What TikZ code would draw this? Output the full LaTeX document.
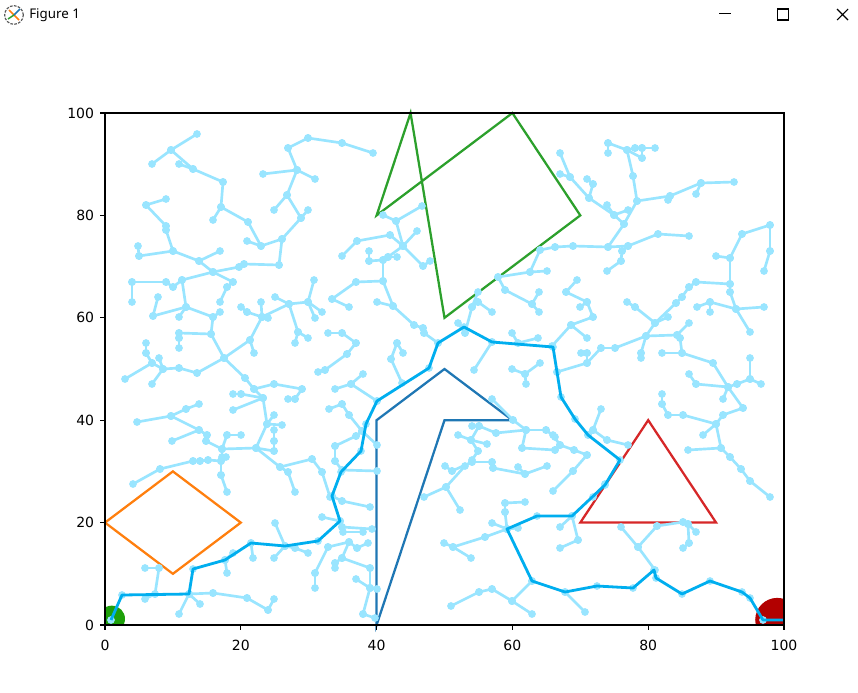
\documentclass[tikz,border=0pt]{standalone}
\usepackage{fontspec}
\setmainfont{DejaVu Sans}
\newfontfamily\uifont{Noto Sans}
\definecolor{treec}{RGB}{153,229,255}
\definecolor{pathc}{RGB}{0,174,239}
\definecolor{tabblue}{RGB}{31,119,180}
\definecolor{taborange}{RGB}{255,127,14}
\definecolor{tabgreen}{RGB}{44,160,44}
\definecolor{tabred}{RGB}{214,39,40}
\definecolor{startc}{RGB}{30,160,10}
\definecolor{goalc}{RGB}{178,0,0}
\def\treeedges{197/134/171/150,171/150/152/164,171/150/193/169,179/164/193/169,193/169/223/182,223/182/221/207,221/207/213/220,221/207/248/222,248/222/261/246,247/241/261/246,261/246/282/239,282/239/279/265,279/265/244/264,244/264/239/267,239/267/213/272,213/272/199/261,199/261/220/251,199/261/173/251,173/251/139/256,139/256/138/246,173/251/166/230,166/230/166/226,166/226/146/205,146/205/166/199,213/272/233/282,213/272/182/280,282/239/301/218,301/218/308/210,301/218/287/195,287/195/274/210,287/195/297/170,297/170/263/174,297/170/315/179,297/170/288/148,288/148/308/138,308/138/342/143,342/143/373/153,
383/215/396/221,396/221/422/206,396/221/403/246,403/246/417/231,403/246/390/235,390/235/357/241,357/241/342/256,403/246/388/257,388/257/383/260,383/260/369/261,369/261/369/251,388/257/397/257,403/246/423/266,423/266/430/261,383/260/383/281,383/281/356/282,498/277/530/272,530/272/547/271,530/272/540/250,540/250/555/247,505/290/498/277,
608/143/608/153,608/143/627/150,627/150/635/148,635/148/642/148,642/148/655/148,627/150/642/158,642/158/642/148,627/150/633/176,633/176/637/201,637/201/670/196,670/196/668/200,670/196/701/183,701/183/734/182,701/183/696/194,560/153/570/177,560/174/570/177,570/177/589/198,587/179/593/184,593/184/589/198,589/198/614/215,607/205/614/215,614/215/628/210,614/215/624/224,637/201/624/224,624/224/608/247,608/247/573/246,573/246/555/247,608/247/628/246,628/246/622/251,628/246/658/234,658/234/689/236,622/251/621/261,621/261/607/271,770/225/742/234,770/225/770/251,770/251/764/271,742/234/730/258,730/258/716/256,730/258/730/284,
132/282/132/302,132/282/166/282,166/282/173/287,173/287/182/280,182/280/186/307,186/307/153/316,153/316/158/297,186/307/179/317,186/307/213/317,213/317/220/312,213/317/211/334,211/334/179/333,179/333/179/338,179/338/179/348,211/334/224/358,224/358/250/340,250/340/254/353,250/340/262/317,262/317/268/318,262/317/247/312,247/312/241/307,262/317/261/302,262/317/289/304,289/304/275/297,289/304/308/302,308/302/314/280,308/302/322/312,308/302/315/318,289/304/298/332,298/332/295/343,298/332/308/338,233/282/227/287,227/287/220/302,224/358/197/373,197/373/179/368,179/368/163/369,163/369/159/358,163/369/152/363,152/363/146/353,146/353/146/343,152/363/125/379,163/369/152/384,224/358/245/378,245/378/254/389,254/389/263/398,263/398/241/394,241/394/233/394,263/398/233/410,254/389/274/384,274/384/302/389,302/389/295/399,295/399/288/399,263/398/267/424,267/424/274/415,267/424/282/425,267/424/256/448,274/430/274/441,274/441/274/451,256/448/274/451,256/448/222/449,222/449/227/435,227/435/241/435,222/449/206/441,206/441/207/435,207/435/199/430,199/430/172/441,199/430/171/416,171/416/186/409,186/409/199/404,171/416/137/422,222/449/222/457,256/448/280/467,
383/281/393/306,377/302/393/306,393/306/414/325,414/325/423/328,423/328/424/333,424/333/438/343,332/299/349/307,332/299/356/282,458/323/465/333,465/333/472/307,472/307/478/292,472/307/478/302,478/302/492/312,505/290/532/304,532/304/539/292,532/304/539/312,328/333/342/333,342/333/356/343,356/343/347/354,347/354/325/370,325/370/318/372,397/343/403/353,397/343/391/359,391/359/402/383,363/374/351/384,351/384/335/389,351/384/377/401,329/409/342/404,342/404/349/415,349/415/362/431,362/431/356/436,356/436/335/446,362/431/377/445,335/446/335/461,512/333/518/343,518/343/538/338,492/342/474/370,512/369/525/374,525/374/540/363,525/374/526/384,492/399/513/420,513/420/526/430,526/430/546/430,546/430/555/437,526/430/522/448,522/448/555/450,472/426/479/426,479/426/496/433,496/433/526/430,479/426/471/440,458/435/471/440,471/440/478/451,471/440/487/444,478/451/472/460,
577/280/566/292,566/292/587/302,587/302/580/307,587/302/593/317,593/317/571/325,571/325/587/338,571/325/552/346,581/353/587/353,587/353/587/363,587/363/557/372,587/363/601/348,601/348/615/348,615/348/646/336,646/336/641/353,641/353/641/358,646/336/655/323,655/323/668/317,655/323/635/307,635/307/627/302,655/323/676/303,676/303/682/297,682/297/689/287,689/287/696/282,696/282/730/284,730/284/730/292,730/292/736/309,710/302/697/307,710/302/710/312,710/302/736/309,736/309/764/307,736/309/750/332,646/336/677/335,677/335/689/323,677/335/680/338,680/338/682/353,682/353/662/353,682/353/713/363,713/363/728/387,750/358/750/379,750/379/761/384,728/387/737/384,737/384/750/379,728/387/696/384,696/384/689/374,728/387/723/399,728/387/743/408,743/408/723/415,723/415/716/424,662/394/662/404,662/404/668/415,668/415/683/415,683/415/716/424,716/424/703/435,716/424/721/448,721/448/688/450,601/409/593/430,593/430/588/435,593/430/607/440,607/440/628/445,560/445/553/435,560/445/574/450,574/450/587/455,560/445/555/450,721/448/730/457,730/457/741/469,741/469/750/481,750/481/770/497,
133/484/160/469,160/469/193/461,193/461/200/461,200/461/208/460,208/460/221/461,221/461/226/457,221/461/221/475,221/475/227/492,280/467/288/472,288/472/295/492,280/467/312/459,312/459/322/472,322/472/330/497,275/523/285/546,274/558/285/546,285/546/295/548,295/548/308/553,253/558/251/543,225/560/233/553,225/560/227/573,145/568/159/568,159/568/155/594,145/599/155/594,189/594/213/593,213/593/247/598,247/598/268/610,268/610/274/599,189/594/200/604,189/594/179/614,322/517/340/521,315/573/315/588,315/573/328/547,
335/461/342/470,342/470/377/471,332/496/342/501,342/501/370/507,340/521/342/527,342/527/372/529,343/532/363/532,328/547/349/542,349/542/357/548,357/548/368/543,349/542/342/558,342/558/335/563,335/563/335/568,342/558/370/568,370/568/370/588,356/579/370/588,370/588/377/589,370/588/363/614,363/614/375/618,445/466/452/471,452/471/472/462,472/462/492/462,492/462/493/468,493/468/525/474,525/474/518/467,525/474/547/466,465/466/446/487,446/487/424/497,446/487/460/510,505/503/525/502,505/503/505/512,505/512/507/529,492/523/507/529,507/529/518/528,507/529/485/537,485/537/453/547,453/547/444/543,453/547/471/558,479/592/492/589,479/592/451/606,492/589/512/601,512/601/532/581,512/601/532/614,
587/455/573/471,573/471/553/491,605/484/593/497,572/516/560/527,572/516/578/540,578/540/560/548,621/527/638/547,638/547/657/526,638/547/655/570,657/526/683/522,683/522/688/524,688/524/696/532,688/524/689/543,689/543/683/548,565/592/585/612}
\def\pathpts{111/620,122/595,189/594,193/569,225/560,251/543,285/546,318/541,340/521,332/496,341/472,361/451,366/424,377/401,429/368,438/343,464/327,492/342,553/347,557/372,561/397,575/419,588/435,620/460,605/485,572/516,537/516,507/529,532/581,565/592,597/586,633/588,654/570,656/578,682/594,710/581,742/592,750/598,763/620}
\begin{document}
\begin{tikzpicture}[x=0.75pt,y=-0.75pt,
  treeline/.style={treec,line width=2pt},
  obst/.style={line width=1.7pt,line join=miter},
  pathline/.style={pathc,line width=2.1pt,line join=round},
  ticklab/.style={font=\fontsize{10.5pt}{12pt}\selectfont,inner sep=0pt},
  winctl/.style={black,line width=0.8pt},
]
\path[use as bounding box] (0,0) rectangle (858,693);
\fill[white] (0,0) rectangle (858,693);
% window title bar
\draw[gray!70!black,line width=0.9pt,dash pattern=on 2pt off 1pt] (14,15) circle[radius=7pt];
\draw[taborange,line width=1.1pt] (9,10) -- (19,20);
\draw[tabblue,line width=1.1pt] (14,15) -- (20,9);
\draw[tabgreen,line width=1.1pt] (14,15) -- (8,19);
\node[font=\uifont\fontsize{10pt}{12pt}\selectfont,anchor=west,inner sep=0pt] (title) at (29,15) {Figure 1};
\draw[winctl] (719,13.5) -- (731,13.5);
\draw[winctl] (777.5,9) rectangle (788.5,20);
\draw[winctl] (837,9) -- (848,20) (848,9) -- (837,20);
% data-coordinate scope
\begin{scope}[shift={(105,625)},x=5.0925pt,y=3.84pt]
  \draw[obst,tabgreen] (40,80) -- (45,100) -- (50,60) -- (70,80) -- (60,100) -- cycle;
  \draw[obst,tabblue] (40,0) -- (40,40) -- (50,50) -- (60,40) -- (50,40) -- cycle;
  \draw[obst,taborange] (0,20) -- (10,30) -- (20,20) -- (10,10) -- cycle;
  \draw[obst,tabred] (70,20) -- (80,40) -- (90,20) -- cycle;
  \begin{scope}
    \clip (0,0) rectangle (100,100);
    \fill[startc] (1,1.2) circle[radius=9.9pt];
    \fill[goalc] (99,1) circle[radius=16.5pt];
  \end{scope}
\end{scope}
% tree
\foreach \a/\b/\c/\d in \treeedges {\draw[treeline] (\a,\b) -- (\c,\d);}
\foreach \a/\b/\c/\d in \treeedges {\fill[treec] (\a,\b) circle[radius=2.9pt] (\c,\d) circle[radius=2.9pt];}
\foreach \a/\b in \pathpts {\fill[treec] (\a,\b) circle[radius=2.9pt];}
% path
\draw[pathline] (111,620) \foreach \a/\b in \pathpts {-- (\a,\b)} -- (783,620);
% axes
\begin{scope}[shift={(105,625)},x=5.0925pt,y=3.84pt]
  \draw[black,line width=0.8pt] (0,0) rectangle (100,100);
  \foreach \v in {0,20,40,60,80,100} {
    \draw[black,line width=0.8pt] (\v,0) -- ++(0,-3.6pt);
    \node[ticklab,anchor=north] (xl\v) at ([yshift=-11pt]\v,0) {\v};
    \draw[black,line width=0.8pt] (0,\v) -- ++(-3.6pt,0);
    \node[ticklab,anchor=east] (yl\v) at ([xshift=-8pt]0,\v) {\v};
  }
\end{scope}
\end{tikzpicture}
\end{document}
